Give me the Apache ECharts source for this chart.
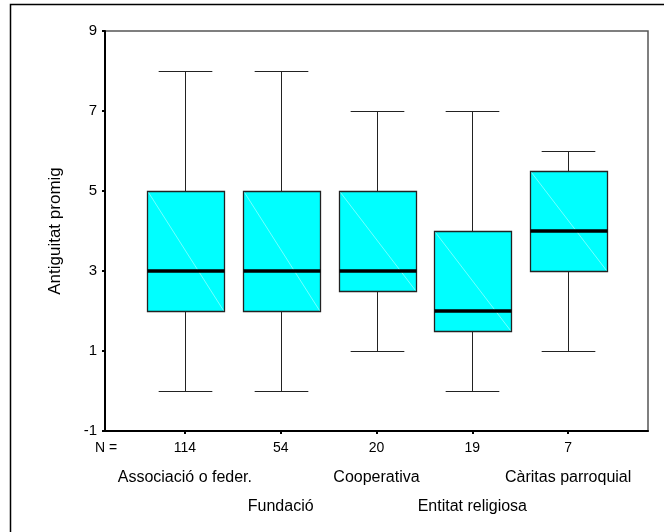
<!DOCTYPE html>
<html>
<head>
<meta charset="utf-8">
<script src="https://cdn.jsdelivr.net/npm/echarts@6/dist/echarts.min.js"></script>
<style>
html,body{margin:0;padding:0;background:#fff;}
#chart{width:664px;height:532px;}
</style>
</head>
<body>
<div id="chart"></div>
<script>
// ---- data ----
const categories = ['Associació o feder.', 'Fundació', 'Cooperativa', 'Entitat religiosa', 'Càritas parroquial'];
const counts = [114, 54, 20, 19, 7];
const whiskerLow = [0, 0, 1, 0, 1];
const q1 = [2, 2, 2.5, 1.5, 3];
const medians = [3, 3, 3, 2, 4];
const q3 = [5, 5, 5, 4, 5.5];
const whiskerHigh = [8, 8, 7, 7, 6];
const yTicks = [-1, 1, 3, 5, 7, 9];
const yAxisTitle = 'Antiguitat promig';
const nLabel = 'N =';

const FONT = "'Liberation Sans', Arial, sans-serif";

const boxData = categories.map((c, i) => [i + 1, whiskerLow[i], q1[i], medians[i], q3[i], whiskerHigh[i]]);
const positions = categories.map((c, i) => i + 1);

const chart = echarts.init(document.getElementById('chart'), null, {renderer: 'canvas'});

function renderBox(params, api) {
  const x = api.value(0);
  const pLo = api.coord([x, api.value(1)]);
  const pQ1 = api.coord([x, api.value(2)]);
  const pMd = api.coord([x, api.value(3)]);
  const pQ3 = api.coord([x, api.value(4)]);
  const pHi = api.coord([x, api.value(5)]);
  const band = api.size([1, 0])[0];
  const bw = band * 0.8;
  const cw = band * 0.56;
  const cx = Math.round(pMd[0]) + 0.5;
  const left = Math.round(cx - bw / 2) + 0.5;
  const right = Math.round(cx + bw / 2) + 0.5;
  const line = (x1, y1, x2, y2, w, col) => ({
    type: 'line',
    shape: {x1, y1, x2, y2},
    style: {stroke: col || '#222', lineWidth: w || 1}
  });
  const yQ1 = Math.round(pQ1[1]) + 0.5, yQ3 = Math.round(pQ3[1]) + 0.5;
  const yLo = Math.round(pLo[1]) + 0.5, yHi = Math.round(pHi[1]) + 0.5;
  const yMd = Math.round(pMd[1]);
  return {
    type: 'group',
    children: [
      line(cx, yHi, cx, yQ3),
      line(cx, yQ1, cx, yLo),
      line(cx - cw / 2, yHi, cx + cw / 2, yHi),
      line(cx - cw / 2, yLo, cx + cw / 2, yLo),
      {
        type: 'rect',
        shape: {x: left, y: yQ3, width: right - left, height: yQ1 - yQ3},
        style: {fill: '#00ffff', stroke: '#222', lineWidth: 1.3}
      },
      line(left + 1, yQ3 + 1, right - 1, yQ1 - 1, 1, 'rgba(255,255,255,0.45)'),
      line(left, yMd, right, yMd, 3.5, '#000')
    ]
  };
}

const xCommon = {
  type: 'value',
  min: 1 / 6,
  max: 35 / 6,
  splitLine: {show: false}
};

const option = {
  backgroundColor: '#fff',
  animation: false,
  grid: {
    left: 105, top: 31, right: 16, bottom: 101,
    show: true, borderColor: '#555', borderWidth: 1.5, backgroundColor: 'transparent'
  },
  xAxis: [
    Object.assign({}, xCommon, {
      axisLine: {show: true, onZero: false, lineStyle: {color: '#000', width: 2}},
      axisTick: {show: true, customValues: positions, length: 3, lineStyle: {color: '#000', width: 2}},
      axisLabel: {
        customValues: positions,
        hideOverlap: false,
        margin: 10,
        fontFamily: FONT, fontSize: 14, color: '#000',
        formatter: function (v) {
          const i = Math.round(v) - 1;
          return (i >= 0 && i < counts.length) ? String(counts[i]) : '';
        }
      }
    }),
    Object.assign({}, xCommon, {
      position: 'bottom',
      offset: 39,
      axisLine: {show: false},
      axisTick: {show: false},
      axisLabel: {
        customValues: [1, 3, 5],
        hideOverlap: false,
        margin: 0,
        fontFamily: FONT, fontSize: 16, color: '#000',
        formatter: function (v) {
          const i = Math.round(v) - 1;
          return categories[i] || '';
        }
      }
    }),
    Object.assign({}, xCommon, {
      position: 'bottom',
      offset: 68,
      axisLine: {show: false},
      axisTick: {show: false},
      axisLabel: {
        customValues: [2, 4],
        hideOverlap: false,
        margin: 0,
        fontFamily: FONT, fontSize: 16, color: '#000',
        formatter: function (v) {
          const i = Math.round(v) - 1;
          return categories[i] || '';
        }
      }
    })
  ],
  yAxis: {
    type: 'value',
    min: -1,
    max: 9,
    name: yAxisTitle,
    nameLocation: 'middle',
    nameGap: 41,
    nameRotate: 90,
    nameTextStyle: {fontFamily: FONT, fontSize: 17, color: '#000'},
    splitLine: {show: false},
    axisLine: {show: true, onZero: false, lineStyle: {color: '#000', width: 2}},
    axisTick: {show: true, customValues: yTicks, length: 3, lineStyle: {color: '#000', width: 2}},
    axisLabel: {
      customValues: yTicks,
      margin: 8,
      fontFamily: FONT, fontSize: 15, color: '#000'
    }
  },
  graphic: [
    {
      type: 'rect', silent: true, z: -1,
      shape: {x: 10.5, y: 4.5, width: 700, height: 600},
      style: {fill: 'transparent', stroke: '#000', lineWidth: 1.5}
    },
    {
      type: 'text', left: 95, top: 441,
      style: {text: nLabel, fontFamily: FONT, fontSize: 14, fill: '#000'}
    }
  ],
  series: [{
    type: 'custom',
    xAxisIndex: 0,
    renderItem: renderBox,
    encode: {x: 0, y: [1, 2, 3, 4, 5]},
    data: boxData,
    clip: false
  }]
};
chart.setOption(option);
</script>
</body>
</html>
